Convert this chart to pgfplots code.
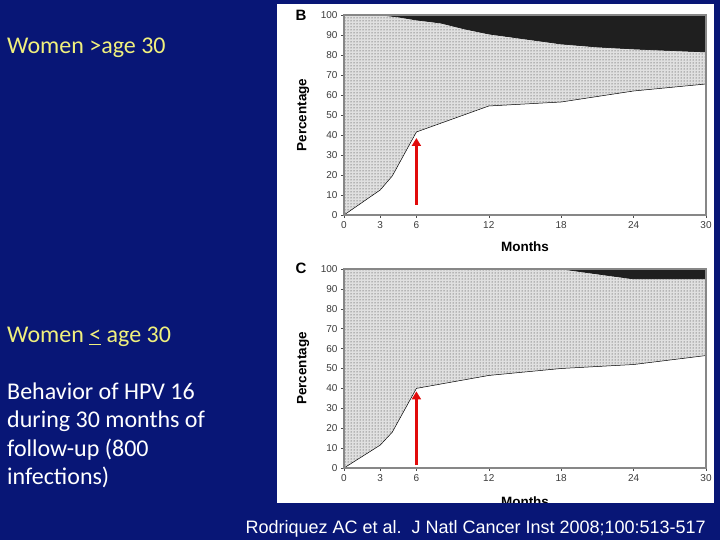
\documentclass[border=0pt]{standalone}
\usepackage{fontspec}
\usepackage{pgfplots}
\pgfplotsset{compat=1.18}
\usetikzlibrary{patterns,arrows.meta}
\setmainfont{Carlito}
\newfontfamily\arial{Liberation Sans}

\definecolor{slideblue}{RGB}{8,22,118}
\definecolor{slideyellow}{RGB}{240,240,125}
\definecolor{framegray}{RGB}{135,135,135}
\definecolor{ticktext}{RGB}{60,60,60}
\definecolor{arrowred}{RGB}{225,10,10}

\pgfplotsset{
  panel/.style={
    scale only axis, width=362pt,
    xmin=0, xmax=30, ymin=0, ymax=100,
    xtick={0,3,6,12,18,24,30},
    ytick={0,10,...,100},
    axis line style={framegray, line width=1.8pt},
    tick style={black!70, line width=0.5pt},
    tick align=outside, major tick length=3pt,
    xtick pos=bottom, ytick pos=left,
    /pgf/number format/assume math mode=true,
    tick label style={font=\arial\fontsize{10}{11}\selectfont, text=ticktext},
    label style={font=\arial\bfseries\fontsize{13.5}{15}\selectfont},
    ylabel={Percentage},
    ylabel style={at={(axis description cs:-0.113,0.5)}, anchor=center, rotate=0},
    xlabel={Months},
    axis on top,
  },
}

\begin{document}
\begin{tikzpicture}[x=1pt, y=1pt]
\fill[slideblue] (0,0) rectangle (720,540);
\fill[white] (277,37) rectangle (714,536);

% Panel B: women older than 30
\begin{axis}[panel, height=200pt, at={(344pt,325pt)}, anchor=south west,
  xlabel style={at={(axis description cs:0.5,-0.16)}, anchor=center}]
  \addplot[fill=black!88, draw=none] coordinates {(0,100) (30,100)} \closedcycle;
  \addplot[fill=black!12, draw=black, line width=0.5pt] coordinates {
    (0,100) (3,100) (4.5,99) (6,97.5) (8,96) (10,93) (12,90.5)
    (15,88) (18,85.5) (21,84) (24,83) (30,81.5)} \closedcycle;
  \addplot[pattern=dots, pattern color=black!85, draw=none] coordinates {
    (0,100) (3,100) (4.5,99) (6,97.5) (8,96) (10,93) (12,90.5)
    (15,88) (18,85.5) (21,84) (24,83) (30,81.5)} \closedcycle;
  \addplot[fill=white, draw=black, line width=0.5pt] coordinates {
    (0,0) (3,12.5) (4,19.5) (6,41.5) (12,54.5) (18,56.5) (24,62) (30,65.5)} \closedcycle;
  \draw[arrowred, line width=3pt, -{Triangle[width=9pt,length=8pt]}]
    (axis cs:6,5) -- (axis cs:6,38.5);
\end{axis}

% Panel C: women 30 or younger
\begin{axis}[panel, height=199pt, at={(344pt,72pt)}, anchor=south west,
  xlabel style={at={(axis description cs:0.5,-0.168)}, anchor=center}]
  \addplot[fill=black!88, draw=none] coordinates {(0,100) (30,100)} \closedcycle;
  \addplot[fill=black!12, draw=black, line width=0.5pt] coordinates {
    (0,100) (18,100) (21,97.5) (24,95) (30,95)} \closedcycle;
  \addplot[pattern=dots, pattern color=black!85, draw=none] coordinates {
    (0,100) (18,100) (21,97.5) (24,95) (30,95)} \closedcycle;
  \addplot[fill=white, draw=black, line width=0.5pt] coordinates {
    (0,0) (3,11.5) (4,18) (6,40) (12,46.5) (18,50) (24,52) (30,56.5)} \closedcycle;
  \draw[arrowred, line width=3pt, -{Triangle[width=9pt,length=8pt]}]
    (axis cs:6,1.5) -- (axis cs:6,38.5);
\end{axis}

% cover the clipped part of the lower panel
\fill[slideblue] (0,0) rectangle (720,37);

\node[font=\arial\bfseries\fontsize{15}{16}\selectfont] at (301,525) {B};
\node[font=\arial\bfseries\fontsize{15}{16}\selectfont] at (301,272) {C};

\begin{scope}[every node/.style={anchor=base west, inner sep=0pt,
    font=\fontsize{24}{28}\selectfont}]
  \node[text=slideyellow] at (7,486) {Women >age 30};
  \node[text=slideyellow] at (7,197) {Women \underline{<} age 30};
  \node[text=white] at (7,140) {Behavior of HPV 16};
  \node[text=white] at (7,112) {during 30 months of};
  \node[text=white] at (7,83) {follow-up (800};
  \node[text=white] at (7,55) {infections)};
\end{scope}
\node[anchor=base east, inner sep=0pt, text=white,
  font=\arial\fontsize{18}{20}\selectfont] at (706,6)
  {Rodriquez AC et al.\ \ J Natl Cancer Inst 2008;100:513-517};
\end{tikzpicture}
\end{document}
